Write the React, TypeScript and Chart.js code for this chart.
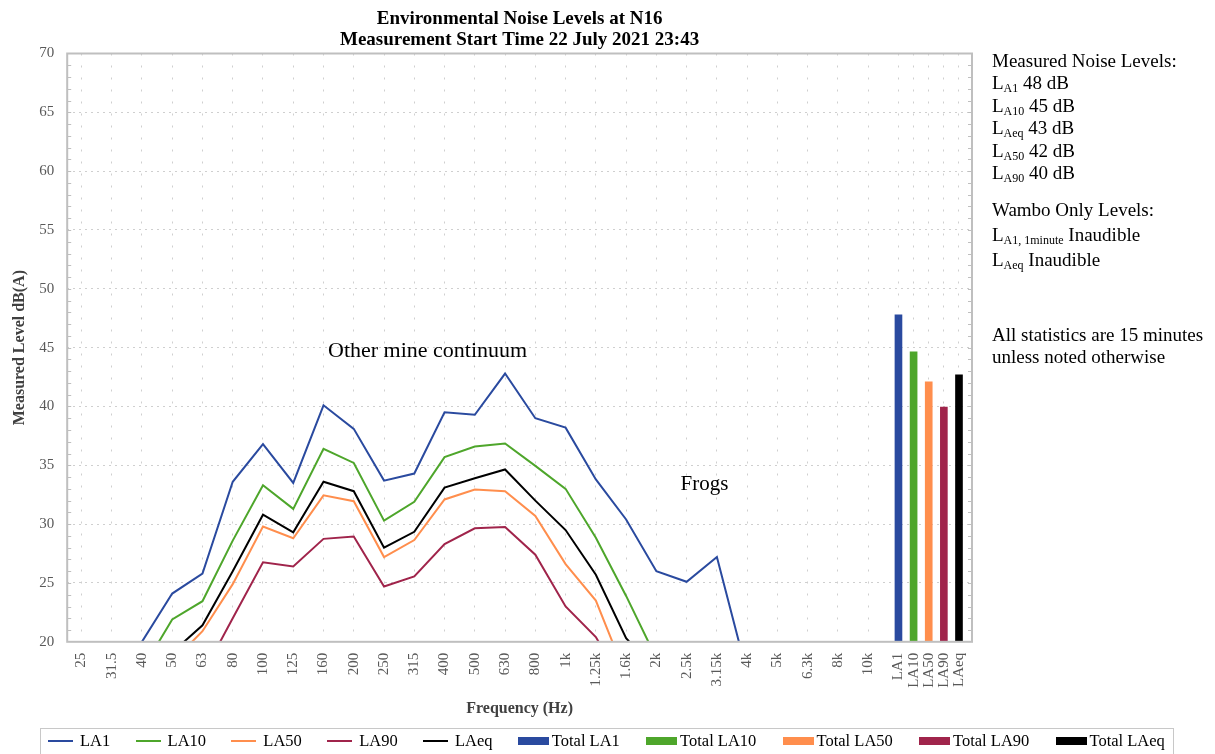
import React, { useEffect, useRef } from 'react';
import { Chart, registerables } from 'chart.js';

Chart.register(...registerables);

const FONT = "'Liberation Serif', 'Times New Roman', serif";

const frequencyLabels = ['25', '31.5', '40', '50', '63', '80', '100', '125', '160', '200', '250', '315', '400', '500', '630', '800', '1k', '1.25k', '1.6k', '2k', '2.5k', '3.15k', '4k', '5k', '6.3k', '8k', '10k'];
const totalLabels = ['LA1', 'LA10', 'LA50', 'LA90', 'LAeq'];

const la1 = [12, 15, 20.0, 24.1, 25.8, 33.6, 36.8, 33.5, 40.1, 38.1, 33.7, 34.3, 39.5, 39.3, 42.8, 39.0, 38.2, 33.8, 30.4, 26.0, 25.1, 27.2, 17.3, 15, 14, 13, 12];
const la10 = [10, 13, 17.6, 21.9, 23.45, 28.6, 33.3, 31.3, 36.4, 35.2, 30.3, 31.9, 35.7, 36.6, 36.85, 34.95, 33.0, 28.85, 23.9, 18.6, 17, 16, 14, 12, 11, 10, 9];
const la50 = [7, 10, 14, 18.3, 20.9, 24.9, 29.8, 28.8, 32.45, 31.95, 27.2, 28.65, 32.1, 32.95, 32.8, 30.7, 26.6, 23.5, 17.1, 15, 14, 13, 12, 11, 10, 9, 8];
const la90 = [6, 9, 12, 14.5, 17.2, 22.0, 26.75, 26.4, 28.75, 28.95, 24.7, 25.55, 28.3, 29.65, 29.75, 27.4, 23.0, 20.4, 16, 14, 13, 12, 11, 10, 9, 8, 7];
const laeq = [8, 11, 15, 19.1, 21.4, 26.0, 30.8, 29.3, 33.6, 32.8, 28.0, 29.35, 33.1, 33.9, 34.65, 32.0, 29.5, 25.7, 20.3, 17.5, 16, 15, 14, 13, 12, 11, 10];

const totalValues = [47.8, 44.65, 42.1, 39.95, 42.7];

const lineSeriesNames = ['LA1', 'LA10', 'LA50', 'LA90', 'LAeq'];
const lineSeriesValues = [la1, la10, la50, la90, laeq];
const seriesColors = ['#2a4a9f', '#4ea62b', '#ff8e4d', '#a0244b', '#000000'];

const yTicks = [20, 25, 30, 35, 40, 45, 50, 55, 60, 65, 70];

const annotationTexts = ['Other mine continuum', 'Frogs'];
const annotationX = [11.44, 20.59];
const annotationY = [44.66, 33.33];
const annotationSizes = [22, 21];

const measuredSubs = ['A1', 'A10', 'Aeq', 'A50', 'A90'];
const measuredValues = [48, 45, 43, 42, 40];

const totalsStart = frequencyLabels.length;
const totalsStep = 0.5;
const tickPositions = frequencyLabels.map((_, i) => i).concat(totalLabels.map((_, j) => totalsStart + j * totalsStep));
const tickTexts = frequencyLabels.concat(totalLabels);

function labelFor(v: number): string {
  const idx = tickPositions.findIndex((p) => Math.abs(p - v) < 1e-6);
  return idx >= 0 ? tickTexts[idx] : '';
}

const decorPlugin = {
  id: 'decor',
  afterDraw(chart: any) {
    const { ctx, chartArea } = chart;
    const y = chart.scales.y;
    const x = chart.scales.x;
    ctx.save();
    ctx.strokeStyle = '#bfbfbf';
    ctx.lineWidth = 2;
    ctx.setLineDash([]);
    ctx.strokeRect(chartArea.left, chartArea.top, chartArea.right - chartArea.left, chartArea.bottom - chartArea.top);
    ctx.lineWidth = 1;
    ctx.beginPath();
    for (let v = y.min + 1; v < y.max; v += 1) {
      const py = Math.round(y.getPixelForValue(v)) + 0.5;
      ctx.moveTo(chartArea.left, py);
      ctx.lineTo(chartArea.left + 4, py);
      ctx.moveTo(chartArea.right, py);
      ctx.lineTo(chartArea.right - 4, py);
    }
    ctx.stroke();
    ctx.fillStyle = '#000';
    ctx.textAlign = 'center';
    ctx.textBaseline = 'middle';
    annotationTexts.forEach((t, i) => {
      ctx.font = `${annotationSizes[i]}px ${FONT}`;
      ctx.fillText(t, x.getPixelForValue(annotationX[i]), y.getPixelForValue(annotationY[i]));
    });
    ctx.restore();
  },
};

export default function App() {
  const canvasRef = useRef<HTMLCanvasElement | null>(null);

  useEffect(() => {
    document.documentElement.style.overflow = 'hidden';
    document.body.style.overflow = 'hidden';
    const canvas = canvasRef.current;
    if (!canvas) return;

    const lineDatasets = lineSeriesNames.map((name, s) => ({
      type: 'line' as const,
      label: name,
      data: lineSeriesValues[s].map((v, i) => ({ x: i, y: v })),
      borderColor: seriesColors[s],
      backgroundColor: seriesColors[s],
      borderWidth: 2,
      pointRadius: 0,
      pointHoverRadius: 0,
      tension: 0,
      clip: 0,
    }));

    const barDatasets = totalLabels.map((name, j) => ({
      type: 'bar' as const,
      label: 'Total ' + name,
      data: [{ x: totalsStart + j * totalsStep, y: totalValues[j] }],
      backgroundColor: seriesColors[j],
      borderWidth: 0,
      barThickness: 7,
      grouped: false,
    }));

    const chart = new Chart(canvas, {
      type: 'line',
      data: { datasets: [...lineDatasets, ...barDatasets] as any },
      options: {
        animation: false,
        responsive: false,
        maintainAspectRatio: false,
        layout: { padding: { left: 0, right: 235, top: 0, bottom: 0 } },
        plugins: {
          title: {
            display: true,
            fullSize: false,
            text: ['Environmental Noise Levels at N16', 'Measurement Start Time 22 July 2021 23:43'],
            font: { family: FONT, size: 19, weight: 'bold', lineHeight: 1.1 },
            color: '#000',
            padding: { top: 1, bottom: 2.7 },
          },
          legend: { display: false },
          tooltip: { enabled: false },
        },
        scales: {
          x: {
            type: 'linear',
            offset: false,
            min: -0.47,
            max: 29.43,
            afterBuildTicks: (scale: any) => {
              scale.ticks = tickPositions.map((v) => ({ value: v }));
            },
            ticks: {
              autoSkip: false,
              minRotation: 90,
              maxRotation: 90,
              padding: 11,
              color: '#595959',
              font: { family: FONT, size: 15 },
              callback: (v: any) => labelFor(Number(v)),
            },
            grid: { offset: false, color: '#cfcfcf', lineWidth: 1, drawTicks: false },
            border: { display: false, dash: [2, 10] },
            title: {
              display: true,
              text: 'Frequency (Hz)',
              color: '#404040',
              font: { family: FONT, size: 16, weight: 'bold' },
              padding: { top: 0, bottom: 10 },
            },
          },
          y: {
            type: 'linear',
            min: 20,
            max: 70,
            afterBuildTicks: (scale: any) => {
              scale.ticks = yTicks.map((v) => ({ value: v }));
            },
            ticks: {
              padding: 13,
              color: '#595959',
              font: { family: FONT, size: 15 },
            },
            grid: {
              color: (c: any) => (c.tick && (c.tick.value === 20 || c.tick.value === 70) ? 'rgba(0,0,0,0)' : '#cfcfcf'),
              lineWidth: 1,
              drawTicks: false,
            },
            border: { display: false, dash: [2, 4] },
            title: {
              display: true,
              text: 'Measured Level dB(A)',
              color: '#404040',
              font: { family: FONT, size: 16, weight: 'bold' },
              padding: { top: 2, bottom: -3 },
            },
          },
        },
      },
      plugins: [decorPlugin],
    });

    return () => {
      chart.destroy();
    };
  }, []);

  const panelFont: React.CSSProperties = { fontFamily: FONT, fontSize: 19, color: '#000', whiteSpace: 'nowrap' };
  const subStyle: React.CSSProperties = { fontSize: 12, verticalAlign: '-3px', lineHeight: 0 };

  const legendItems = [
    ...lineSeriesNames.map((name, i) => ({ label: name, color: seriesColors[i], kind: 'line' })),
    ...totalLabels.map((name, i) => ({ label: 'Total ' + name, color: seriesColors[i], kind: 'bar' })),
  ];

  return (
    <div style={{ position: 'relative', width: 1199, height: 746, overflow: 'hidden' }}>
      <canvas ref={canvasRef} width={1199} height={720} style={{ display: 'block' }} />
      <div style={{ ...panelFont, position: 'absolute', left: 984, top: 41.5, lineHeight: '22.5px' }}>
        <div>Measured Noise Levels:</div>
        {measuredSubs.map((s, i) => (
          <div key={s}>
            L<span style={subStyle}>{s}</span> {measuredValues[i]} dB
          </div>
        ))}
      </div>
      <div style={{ ...panelFont, position: 'absolute', left: 984, top: 188.5, lineHeight: '25px' }}>
        <div>Wambo Only Levels:</div>
        <div>
          L<span style={subStyle}>A1, 1minute</span> Inaudible
        </div>
        <div>
          L<span style={subStyle}>Aeq</span> Inaudible
        </div>
      </div>
      <div style={{ ...panelFont, position: 'absolute', left: 984, top: 316, lineHeight: '21.7px' }}>
        <div>All statistics are 15 minutes</div>
        <div>unless noted otherwise</div>
      </div>
      <div
        style={{
          position: 'absolute',
          left: 32,
          top: 719.5,
          width: 1134,
          height: 60,
          border: '1px solid #c8c8c8',
          boxSizing: 'border-box',
          fontFamily: FONT,
          fontSize: 16.5,
          color: '#000',
          whiteSpace: 'nowrap',
          lineHeight: '20px',
        }}
      >
        <div style={{ display: 'flex', alignItems: 'center', height: 20, position: 'absolute', top: 2, left: 7 }}>
          {legendItems.map((it) => (
            <div
              key={it.label}
              style={{ display: 'flex', alignItems: 'center', marginRight: it.kind === 'line' ? 25.3 : 26.2 }}
            >
              <span
                style={{
                  display: 'inline-block',
                  width: it.kind === 'line' ? 25 : 31,
                  height: it.kind === 'line' ? 2 : 8,
                  background: it.color,
                  marginRight: it.kind === 'line' ? 7 : 3,
                }}
              />
              <span>{it.label}</span>
            </div>
          ))}
        </div>
      </div>
    </div>
  );
}
